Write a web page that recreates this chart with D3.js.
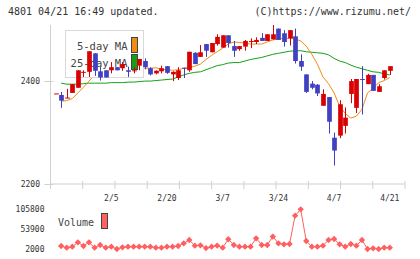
<!DOCTYPE html>
<html>
<head>
<meta charset="utf-8">
<script src="https://cdnjs.cloudflare.com/ajax/libs/d3/7.8.5/d3.min.js"></script>
<style>
  body { margin: 0; background: #fff; }
  text { font-family: "DejaVu Sans Mono", monospace; fill: #333; }
</style>
</head>
<body>
<div id="chart"></div>
<script>
// daily candles, oldest first (the first one has no MA / volume point)
var open  = [2376,2373,2367,2377,2387,2416,2418,2454,2419,2421,2421,2427,2425,2421,2419,2430,2439,2425,2415,2419,2429,2413,2406,2426,2421,2455,2447,2472,2456,2472,2465,2489,2468,2462,2467,2476,2476,2484,2478,2481,2502,2493,2483,2487,2439,2413,2395,2393,2352,2369,2290,2294,2313,2375,2348,2404,2394,2412,2379,2406,2420];
var high  = [2376,2379,2385,2394,2421,2421,2458,2454,2428,2421,2437,2427,2437,2428,2428,2443,2444,2427,2421,2430,2429,2419,2427,2426,2457,2456,2470,2472,2474,2491,2489,2489,2478,2468,2480,2483,2485,2493,2491,2509,2502,2499,2499,2502,2452,2413,2400,2394,2384,2369,2300,2363,2349,2404,2404,2429,2414,2412,2394,2421,2429];
var low   = [2376,2348,2367,2377,2387,2408,2408,2410,2401,2407,2415,2421,2420,2408,2415,2421,2423,2411,2413,2415,2414,2400,2402,2406,2418,2433,2447,2447,2456,2469,2465,2465,2447,2459,2459,2464,2472,2478,2478,2481,2480,2467,2469,2434,2420,2377,2384,2371,2352,2298,2236,2289,2298,2357,2338,2335,2394,2381,2379,2403,2412];
var close = [2376,2362,2368,2394,2421,2418,2458,2420,2407,2407,2427,2421,2433,2418,2421,2443,2427,2413,2420,2425,2416,2418,2421,2425,2457,2433,2456,2459,2474,2486,2489,2474,2459,2468,2478,2478,2480,2478,2491,2491,2480,2476,2499,2439,2428,2379,2387,2376,2375,2321,2265,2355,2329,2400,2404,2403,2412,2381,2390,2421,2429];

var ma5  = [null,2361,2362,2366,2377,2388,2400,2412,2419,2421,2423,2420,2420,2421,2422,2424,2425,2425,2426,2423,2422,2421,2422,2425,2426,2429,2433,2442,2450,2457,2464,2472,2476,2475,2474,2472,2472,2472,2476,2480,2482,2483,2483,2482,2478,2468,2452,2433,2408,2395,2377,2351,2337,2328,2332,2345,2377,2386,2397,2401,2407];
var ma25 = [null,2396,2394,2394,2394,2395,2396,2396,2396,2396,2397,2397,2397,2398,2398,2399,2400,2400,2401,2402,2403,2404,2408,2412,2415,2417,2418,2422,2426,2430,2432,2435,2436,2436,2439,2442,2444,2446,2449,2452,2454,2456,2458,2459,2459,2457,2456,2455,2454,2451,2444,2439,2436,2431,2427,2424,2421,2418,2417,2414,2412];

var volume = [null,9850,5400,8000,19500,9850,19500,5400,12500,5400,8000,2000,6400,8000,8000,8000,8000,8000,5400,5400,8000,8000,9850,16900,25500,10600,11700,4500,8000,11000,5400,27400,12500,8000,8000,8000,30000,12500,12500,34500,16900,14300,15100,89100,105800,22900,8000,8000,10600,25500,28200,14300,8000,15100,10600,25500,2000,3800,2000,5400,5400];

var dateLabels = ["2/5","2/20","3/7","3/24","4/7","4/21"];
var dateIndex  = [10,20,30,40,50,60];
var priceTicks = [2400, 2200];
var volTicks   = [105800, 53900, 2000];

var W = 420, H = 259;
var plot = {left: 50.5, right: 405, top: 25, bottom: 184};
var axisColor = "#d0d0d0";
var upColor = "#d80000", downColor = "#4040c0";

var svg = d3.select("#chart")
  .append("svg")
    .attr("width", W)
    .attr("height", H);

// header
svg.append("text").attr("x", 8).attr("y", 15).style("font-size", "10px")
  .text("4801 04/21 16:49 updated.");
svg.append("text").attr("x", 411).attr("y", 15).attr("text-anchor", "end").style("font-size", "10px")
  .text("(C)https://www.rizumu.net/");

// scales
var x = d3.scaleLinear()
  .domain([0, close.length - 1])
  .range([plot.left + 5.1, plot.right - 15.2]);

var y = d3.scaleLinear()
  .domain([2200, d3.max(high)])
  .range([plot.bottom, plot.top]);

var vy = d3.scaleLinear()
  .domain(d3.extent(volume.filter(function(d) { return d != null; })))
  .range([249, 209.3]);

// axes
svg.append("line")
  .attr("x1", plot.left).attr("x2", plot.left)
  .attr("y1", plot.top).attr("y2", plot.bottom + 5)
  .attr("stroke", axisColor);
svg.append("line")
  .attr("x1", plot.left).attr("x2", plot.right)
  .attr("y1", plot.bottom).attr("y2", plot.bottom)
  .attr("stroke", axisColor);

// x grid ticks split the plot width evenly
var nTicks = 11;
svg.selectAll("xtick")
  .data(d3.range(1, nTicks + 1))
  .enter()
  .append("line")
    .attr("x1", function(d) { return plot.left + d * (plot.right - plot.left) / nTicks; })
    .attr("x2", function(d) { return plot.left + d * (plot.right - plot.left) / nTicks; })
    .attr("y1", plot.bottom - 3)
    .attr("y2", plot.bottom + 5)
    .attr("stroke", axisColor);

svg.selectAll("ptick")
  .data(priceTicks)
  .enter()
  .append("line")
    .attr("x1", plot.left - 6).attr("x2", plot.left + 3)
    .attr("y1", function(d) { return Math.round(y(d)) + 0.5; })
    .attr("y2", function(d) { return Math.round(y(d)) + 0.5; })
    .attr("stroke", axisColor);

svg.selectAll("plabel")
  .data(priceTicks)
  .enter()
  .append("text")
    .attr("x", 40)
    .attr("y", function(d) { return y(d) + 3; })
    .attr("text-anchor", "end")
    .style("font-size", "8px")
    .text(function(d) { return d; });

svg.selectAll("xlabel")
  .data(dateLabels)
  .enter()
  .append("text")
    .attr("x", function(d, i) { return x(dateIndex[i]); })
    .attr("y", 201)
    .attr("text-anchor", "middle")
    .style("font-size", "8px")
    .text(function(d) { return d; });

// moving averages
function maLine(arr) {
  return d3.line()
    .defined(function(d) { return d != null; })
    .x(function(d, i) { return x(i); })
    .y(function(d) { return y(d); })(arr);
}
svg.append("path").attr("d", maLine(ma25))
  .attr("fill", "none").attr("stroke", "#14a014").attr("stroke-width", 1);
svg.append("path").attr("d", maLine(ma5))
  .attr("fill", "none").attr("stroke", "#f08c14").attr("stroke-width", 1);

// legend
svg.append("rect")
  .attr("x", 65.5).attr("y", 30.5).attr("width", 78).attr("height", 47)
  .attr("fill", "#fff").attr("stroke", "#d8d8d8");
svg.append("text").attr("x", 127.5).attr("y", 50).attr("text-anchor", "end")
  .style("font-size", "10.5px").style("fill", "#444").text("5-day MA");
svg.append("text").attr("x", 127.5).attr("y", 66.5).attr("text-anchor", "end")
  .style("font-size", "10.5px").style("fill", "#444").text("25-day MA");
svg.append("rect").attr("x", 131.5).attr("y", 37.5).attr("width", 6).attr("height", 15)
  .attr("fill", "#f08c14").attr("stroke", "#444");
svg.append("rect").attr("x", 131.5).attr("y", 54.5).attr("width", 6).attr("height", 15)
  .attr("fill", "#14a014").attr("stroke", "#444");

// candles
var bw = 4.7;
var idx = d3.range(close.length);
function col(i) { return close[i] >= open[i] ? upColor : downColor; }

svg.selectAll("wick")
  .data(idx)
  .enter()
  .append("line")
    .attr("x1", function(i) { return Math.round(x(i)) + 0.5; })
    .attr("x2", function(i) { return Math.round(x(i)) + 0.5; })
    .attr("y1", function(i) { return y(high[i]); })
    .attr("y2", function(i) { return y(low[i]); })
    .attr("stroke", col);

svg.selectAll("body")
  .data(idx)
  .enter()
  .append("rect")
    .attr("x", function(i) { return Math.round(x(i)) + 0.5 - bw / 2; })
    .attr("width", bw)
    .attr("y", function(i) { return y(Math.max(open[i], close[i])); })
    .attr("height", function(i) { return Math.max(1, Math.abs(y(open[i]) - y(close[i]))); })
    .attr("fill", col);

// volume
svg.selectAll("vlabel")
  .data(volTicks)
  .enter()
  .append("text")
    .attr("x", 44.5)
    .attr("y", function(d) { return vy(d) + 2.8; })
    .attr("text-anchor", "end")
    .style("font-size", "8px")
    .text(function(d) { return d; });

svg.append("text").attr("x", 58).attr("y", 226).style("font-size", "10px")
  .style("fill", "#444").text("Volume");
svg.append("rect").attr("x", 101.5).attr("y", 213.5).attr("width", 6).attr("height", 15)
  .attr("fill", "#ff6262").attr("stroke", "#444");

var volColor = "#ff5f5f";
svg.append("path")
  .attr("d", d3.line()
    .defined(function(d) { return d != null; })
    .x(function(d, i) { return x(i); })
    .y(function(d) { return vy(d); })(volume))
  .attr("fill", "none").attr("stroke", volColor).attr("stroke-width", 1);

svg.selectAll("vdot")
  .data(idx.filter(function(i) { return volume[i] != null; }))
  .enter()
  .append("path")
    .attr("d", d3.symbol(d3.symbolSquare, 20))
    .attr("transform", function(i) { return "translate(" + x(i) + "," + vy(volume[i]) + ")rotate(45)"; })
    .attr("fill", volColor);
</script>
</body>
</html>
